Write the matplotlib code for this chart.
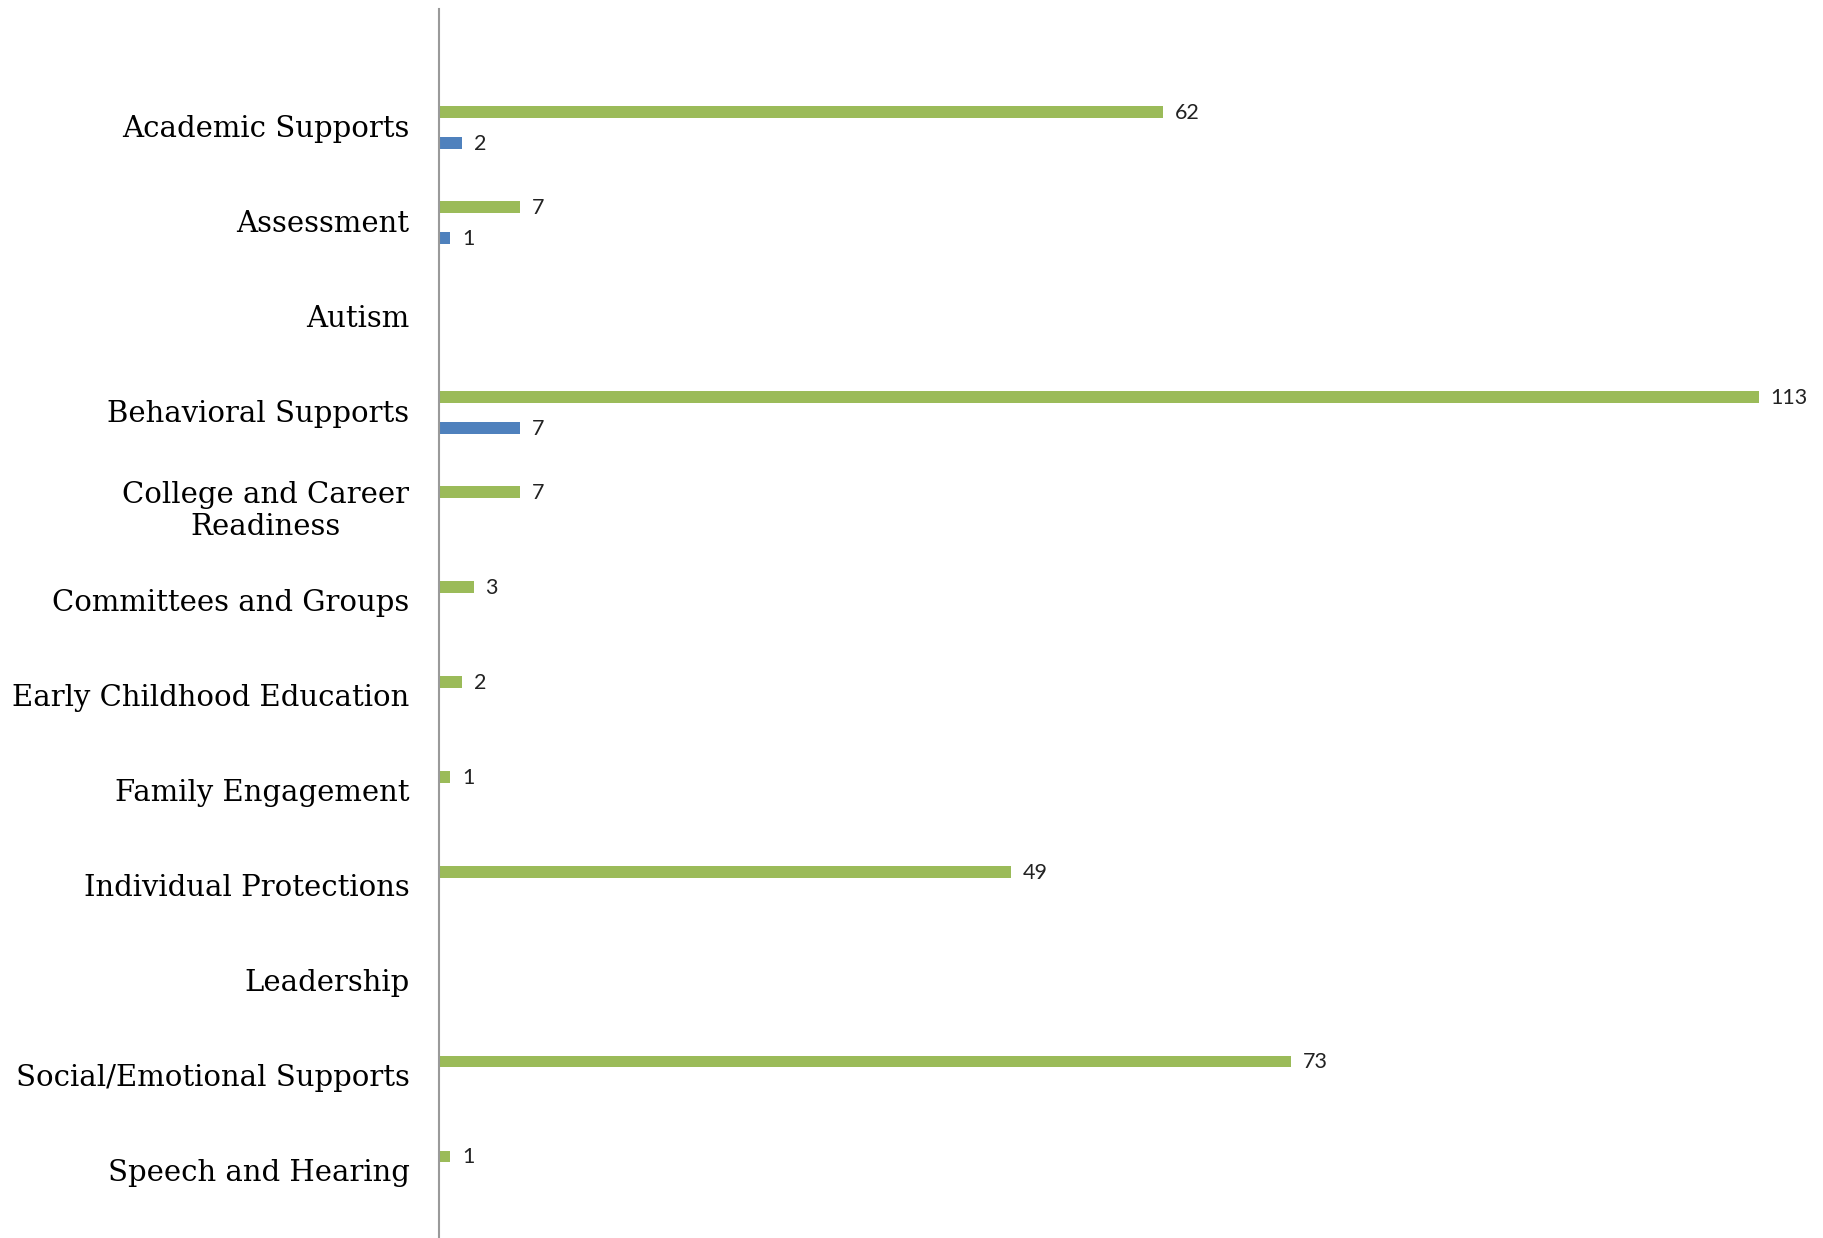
import matplotlib.pyplot as plt
import numpy as np

categories = ["Academic Supports", "Assessment", "Autism", "Behavioral Supports",
              "College and Career\nReadiness", "Committees and Groups",
              "Early Childhood Education", "Family Engagement",
              "Individual Protections", "Leadership",
              "Social/Emotional Supports", "Speech and Hearing"]
# None = no bar for that category
green_vals = [62, 7, None, 113, 7, 3, 2, 1, 49, None, 73, 1]
blue_vals = [2, 1, None, 7, None, None, None, None, None, None, None, None]

green = "#9BBB59"
blue = "#4F81BD"

fig = plt.figure(figsize=(18.24, 12.38), dpi=100)
ax = fig.add_axes([438.6 / 1824, 0, 1 - 438.6 / 1824, 1 - 9 / 1238])

y = np.arange(len(categories))
off = 0.165
h = 0.125

for i, v in enumerate(green_vals):
    if v is None:
        continue
    ax.barh(y[i] - off + 0.02, v, height=h, color=green, edgecolor="none")
    ax.text(v + 1.0, y[i] - off + 0.03, str(v), va="center", ha="left",
            fontsize=15.5, family="Lato", color="#222222")

for i, v in enumerate(blue_vals):
    if v is None:
        continue
    ax.barh(y[i] + off + 0.02, v, height=h, color=blue, edgecolor="none")
    ax.text(v + 1.0, y[i] + off + 0.03, str(v), va="center", ha="left",
            fontsize=15.5, family="Lato", color="#222222")

ax.set_ylim(11.713, -1.228)
ax.set_xlim(0, 118.6)
ax.set_yticks(y)
ax.set_yticklabels(categories, fontsize=21, family="DejaVu Serif",
                   multialignment="center")
ax.tick_params(axis="y", length=0, pad=21)
ax.set_xticks([])

for s in ["top", "right", "bottom"]:
    ax.spines[s].set_visible(False)
ax.spines["left"].set_color("#9a9a9a")
ax.spines["left"].set_linewidth(1.5)

fig.savefig("out.png", dpi=100)
